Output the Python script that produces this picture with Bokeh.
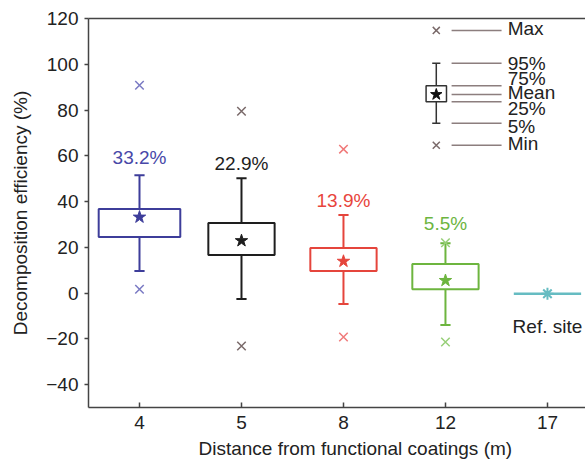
from bokeh.plotting import figure
from bokeh.models import LinearAxis, Range1d, FixedTicker, ColumnDataSource, Title
from bokeh.embed import file_html
from bokeh.resources import INLINE
from bokeh.core.properties import value

# ---- data ----
categories = ["4", "5", "8", "12", "17"]
box_index = [0, 1, 2, 3]
q75 = [36.7, 30.6, 19.7, 12.7]
q25 = [24.5, 16.6, 9.6, 1.7]
p95 = [51.5, 50.2, 34.1, 21.8]
p05 = [9.6, -2.6, -4.8, -14.0]
means = [33.2, 22.9, 13.9, 5.5]
maxs = [90.8, 79.5, 62.9, 22.0]
mins = [1.7, -23.1, -19.2, -21.4]
mean_labels = ["33.2%", "22.9%", "13.9%", "5.5%"]
ref_index = 4
ref_value = -0.3
ref_label = "Ref. site"
x_title = "Distance from functional coatings (m)"
y_title = "Decomposition efficiency (%)"

# legend illustration values
leg_max, leg_p95, leg_q75, leg_mean, leg_q25, leg_p05, leg_min = 114.8, 100.4, 90.6, 86.8, 83.6, 74.2, 64.6
leg_names = ["Max", "95%", "75%", "Mean", "25%", "5%", "Min"]
leg_text_y = [115.7, 100.4, 93.6, 87.6, 80.8, 72.6, 65.5]

y_ticks = [120, 100, 80, 60, 40, 20, 0, -20, -40]

# ---- styles ----
FONT = "Liberation Sans"
FS = "19px"
box_colors = ["#3d3d9a", "#1e1e1e", "#e5453c", "#6db53f"]
text_colors = ["#4848a8", "#1e1e1e", "#e8453c", "#6db53f"]
out_colors = ["#7b7bc4", "#7a6a6a", "#f07a7a", "#97cf78"]
ref_color = "#66bcc2"
box_widths = [0.8, 0.65, 0.65, 0.65]
label_offsets = [-18, -15, -15, -20]
cap_w = 0.1
LW = 2

p = figure(width=585, height=465, output_backend="svg", toolbar_location=None,
           x_range=Range1d(-0.5, 4.373), y_range=Range1d(-50, 120),
           min_border_left=88, min_border_right=0, min_border_top=18, min_border_bottom=58)
p.outline_line_color = None
p.xgrid.visible = False
p.ygrid.visible = False
p.background_fill_color = "white"

# axes
p.xaxis.ticker = FixedTicker(ticks=list(range(len(categories))))
p.xaxis.major_label_overrides = {i: c for i, c in enumerate(categories)}
p.yaxis.ticker = FixedTicker(ticks=y_ticks)
p.yaxis.major_label_overrides = {t: (str(t) if t >= 0 else "\u2212" + str(-t)) for t in y_ticks}
for ax in (p.xaxis[0], p.yaxis[0]):
    ax.axis_line_color = "#444444"
    ax.axis_line_width = 1.5
    ax.major_tick_line_color = "#444444"
    ax.major_tick_line_width = 1.5
    ax.minor_tick_line_color = None
    ax.major_label_text_font = FONT
    ax.major_label_text_font_size = FS
    ax.major_label_text_color = "#222222"
    ax.axis_label_text_font = FONT
    ax.axis_label_text_font_size = FS
    ax.axis_label_text_font_style = "normal"
    ax.axis_label_text_color = "#222222"
p.xaxis.major_tick_in = 5
p.xaxis.major_tick_out = 0
p.yaxis.major_tick_in = 0
p.yaxis.major_tick_out = 4
p.xaxis.major_label_standoff = 8
p.yaxis.major_label_standoff = 6
p.yaxis.axis_label = y_title
p.yaxis.axis_label_standoff = 12

top = LinearAxis(ticker=FixedTicker(ticks=[]), axis_line_color="#444444", axis_line_width=1.5,
                 major_tick_line_color=None, minor_tick_line_color=None)
p.add_layout(top, "above")

# x-axis title, shifted right as in the original (wider) frame
p.add_layout(Title(text=x_title, align="left", offset=110, standoff=8, text_font=FONT,
                   text_font_size=FS, text_font_style="normal", text_color="#222222"), "below")

# boxes
src = ColumnDataSource(dict(
    x=box_index, q75=q75, q25=q25, p95=p95, p05=p05, mean=means, mx=maxs, mn=mins,
    left=[x - w / 2 for x, w in zip(box_index, box_widths)],
    right=[x + w / 2 for x, w in zip(box_index, box_widths)],
    cl=[x - cap_w / 2 for x in box_index], cr=[x + cap_w / 2 for x in box_index],
    color=box_colors, tcolor=text_colors, ocolor=out_colors, lab=mean_labels, yo=label_offsets,
))
p.segment(x0="x", y0="q75", x1="x", y1="p95", source=src, line_color="color", line_width=LW)
p.segment(x0="x", y0="q25", x1="x", y1="p05", source=src, line_color="color", line_width=LW)
p.segment(x0="cl", y0="p95", x1="cr", y1="p95", source=src, line_color="color", line_width=LW)
p.segment(x0="cl", y0="p05", x1="cr", y1="p05", source=src, line_color="color", line_width=LW)
p.quad(left="left", right="right", top="q75", bottom="q25", source=src,
       fill_color="white", line_color="color", line_width=LW)
p.scatter(x="x", y="mean", source=src, marker="star", size=13, fill_color="color", line_color="color")
p.scatter(x="x", y="mx", source=src, marker="x", size=12, line_color="ocolor", line_width=1.5)
p.scatter(x="x", y="mn", source=src, marker="x", size=12, line_color="ocolor", line_width=1.5)
p.text(x="x", y="p95", text="lab", source=src, text_color="tcolor", y_offset="yo",
       text_font=value(FONT), text_font_size=FS, text_align="center", text_baseline="middle")

# reference site
p.segment(x0=[ref_index - 0.33], y0=[ref_value], x1=[ref_index + 0.33], y1=[ref_value],
          line_color=ref_color, line_width=2.5)
p.scatter(x=[ref_index], y=[ref_value], marker="asterisk", size=12, line_color=ref_color, line_width=2)
p.text(x=[ref_index], y=[ref_value], text=[ref_label], y_offset=33, text_color="#222222",
       text_font=value(FONT), text_font_size=FS, text_align="center", text_baseline="middle")

# legend illustration
lx = 2.91
lw = 0.2
lc = 0.08
dark = "#333333"
p.segment(x0=[lx, lx], y0=[leg_q75, leg_q25], x1=[lx, lx], y1=[leg_p95, leg_p05], line_color=dark, line_width=1.5)
p.segment(x0=[lx - lc / 2] * 2, y0=[leg_p95, leg_p05], x1=[lx + lc / 2] * 2, y1=[leg_p95, leg_p05],
          line_color=dark, line_width=1.5)
p.quad(left=[lx - lw / 2], right=[lx + lw / 2], top=[leg_q75], bottom=[leg_q25],
       fill_color="white", line_color=dark, line_width=1.5)
p.scatter(x=[lx], y=[leg_mean], marker="star", size=12, fill_color="#111111", line_color="#111111")
p.scatter(x=[lx, lx], y=[leg_max, leg_min], marker="x", size=10, line_color="#7a6a6a", line_width=1.5)
leg_line_y = [leg_max, leg_p95, leg_q75, leg_mean, leg_q25, leg_p05, leg_min]
p.segment(x0=[3.06] * 7, y0=leg_line_y, x1=[3.55] * 7, y1=leg_line_y, line_color="#8c7e7e", line_width=1.5)
p.text(x=[3.61] * 7, y=leg_text_y, text=leg_names, text_color="#222222",
       text_font=value(FONT), text_font_size=FS, text_align="left", text_baseline="middle")

open("out.html", "w").write(file_html(p, INLINE))
